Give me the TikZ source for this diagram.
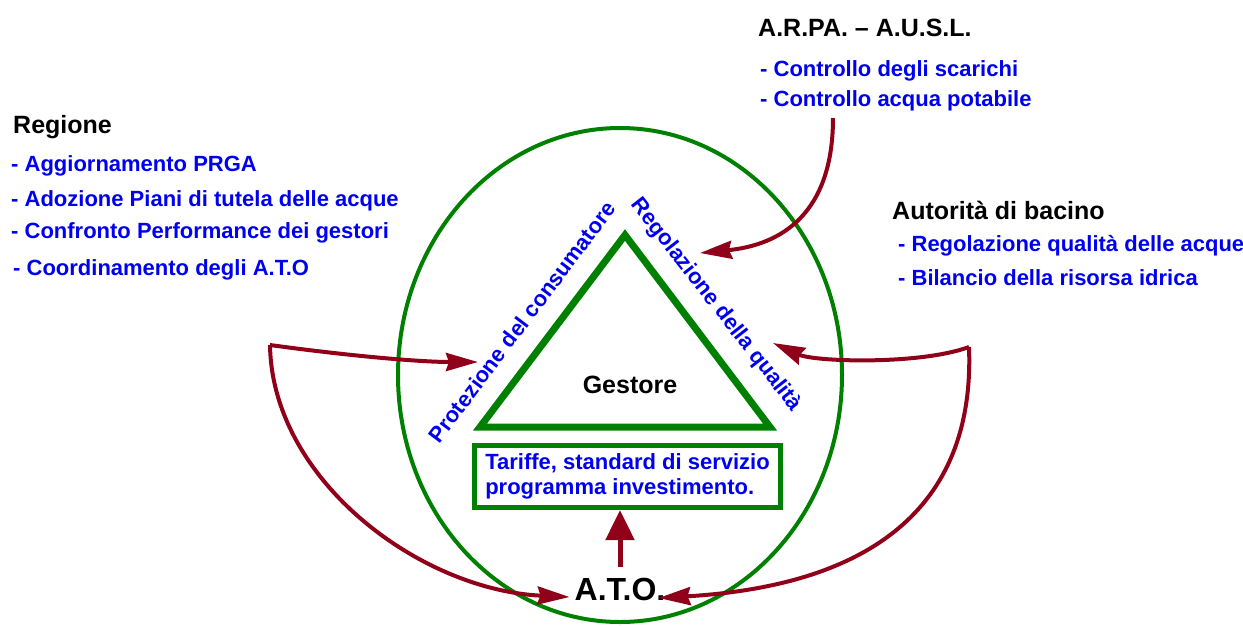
\documentclass[tikz,border=0pt]{standalone}
\usepackage{fontspec}
\setmainfont{Liberation Sans}
\usepackage{xcolor}
\usetikzlibrary{shapes,calc,arrows.meta}
\definecolor{itemblue}{RGB}{0,0,240}
\definecolor{ringgreen}{RGB}{0,128,0}
\definecolor{flowred}{RGB}{145,0,25}

\begin{document}
\begin{tikzpicture}[x=1pt,y=-1pt,
      head/.style={anchor=base west, inner sep=0pt, font=\fontsize{25}{30}\selectfont\bfseries},
      item/.style={anchor=base west, inner sep=0pt, text=itemblue, font=\fontsize{22}{25}\selectfont\bfseries},
      side/.style={inner sep=0pt, text=itemblue, font=\fontsize{22}{25}\selectfont\bfseries},
      plan/.style={draw=ringgreen, line width=5pt, minimum width=306pt, minimum height=62pt, align=left,
        text=itemblue, font=\fontsize{22}{25}\selectfont\bfseries},
      flow/.style={draw=flowred, line width=4pt, -{Stealth[length=32pt,width=18pt,inset=3pt]}},
      lift/.style={draw=flowred, line width=5pt, -{Triangle[length=30pt,width=28pt]}, shorten <=10pt}]
      \useasboundingbox (0,0) rectangle (1243,625);
      % ring and triangle
      \draw[ringgreen, line width=4pt] (620,375) ellipse [x radius=222pt, y radius=247pt];
      \coordinate (apex) at (625,235);
      \coordinate (left) at (480,427);
      \coordinate (right) at (770,427);
      \draw[ringgreen, line width=7pt] (apex) -- (left) -- (right) -- cycle;
      \node[head, anchor=base] (gestore) at (630,393) {Gestore};
      \node[side, rotate=53] (tutela) at (522,322) {Protezione del consumatore};
      \node[side, rotate=-52] (qualita) at (716,305) {Regolazione della qualità};
      \node[plan] (tariffe) at (627.5,476.5) {Tariffe, standard di servizio\\programma investimento.};
      \node[inner sep=0pt, anchor=base, font=\fontsize{32}{36}\selectfont\bfseries] (ato) at (620,600) {A.T.O.};
      % actors
      \node[head] (regione) at (13,133) {Regione};
      \node[item] (reg1) at (11,171) {- Aggiornamento PRGA};
      \node[item] (reg2) at (11,206) {- Adozione Piani di tutela delle acque};
      \node[item] (reg3) at (11,238) {- Confronto Performance dei gestori};
      \node[item] (reg4) at (13,275) {- Coordinamento degli A.T.O};
      \node[head] (arpa) at (758,36) {A.R.PA. – A.U.S.L.};
      \node[item] (arpa1) at (760,76) {- Controllo degli scarichi};
      \node[item] (arpa2) at (760,106) {- Controllo acqua potabile};
      \node[head] (bacino) at (892,219) {Autorità di bacino};
      \node[item] (bac1) at (898,251) {- Regolazione qualità delle acque};
      \node[item] (bac2) at (898,285) {- Bilancio della risorsa idrica};
      % arrows
      \coordinate (L0) at (270,345);
      \coordinate (R0) at (969,347);
      \coordinate (A0) at (833,118);
      \coordinate (pin) at (478,362);
      \coordinate (rin) at (773,343);
      \coordinate (ain) at (700,253);
      \coordinate (atoL) at ($(ato.base west)+(-5,-3)$);
      \coordinate (atoR) at ($(ato.base east)+(-7,-2)$);
      \draw[flow] (L0) .. controls (350,356) and (420,362) .. (pin);
      \draw[flow] (L0) .. controls (272,480) and (420,590) .. (atoL);
      \draw[flow] (R0) .. controls (920,365) and (815,362) .. (rin);
      \draw[flow] (R0) .. controls (975,500) and (880,585) .. (atoR);
      \draw[flow] (A0) .. controls (833,215) and (780,245) .. (ain);
      \draw[lift] (ato.north) -- (ato.north |- tariffe.south);
    \end{tikzpicture}
\end{document}
